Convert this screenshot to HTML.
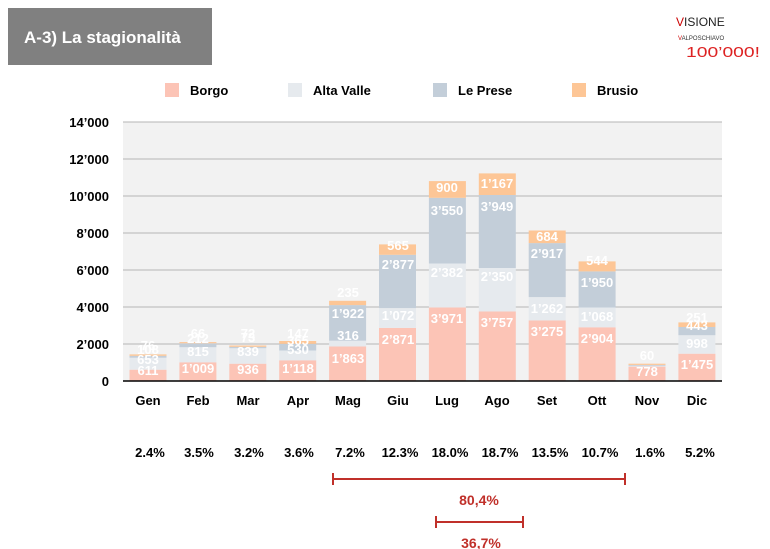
<!DOCTYPE html>
<html><head><meta charset="utf-8"><style>
body{margin:0;background:#fff;}
svg{display:block;font-family:"Liberation Sans",sans-serif;}
.l{fill:#fff;font-weight:bold;font-size:13px;text-anchor:middle;}
.ax{fill:#000;font-weight:bold;font-size:13px;}
</style></head><body>
<svg width="770" height="549" viewBox="0 0 770 549" xmlns="http://www.w3.org/2000/svg">
<rect x="8" y="8" width="204" height="57" fill="#808080"/>
<text x="24" y="43" fill="#fff" font-weight="bold" font-size="17">A-3) La stagionalità</text>
<text x="676" y="26" font-size="12" fill="#222"><tspan fill="#c00">V</tspan>ISIONE</text>
<text x="678" y="40" font-size="6" fill="#333"><tspan fill="#c00">V</tspan>ALPOSCHIAVO</text>
<text x="686" y="57" font-size="15" fill="#d22" textLength="74" lengthAdjust="spacingAndGlyphs">100’000!</text>
<rect x="165" y="83" width="14" height="14" fill="#fcc4b6"/><text x="190" y="95" class="ax">Borgo</text>
<rect x="288" y="83" width="14" height="14" fill="#e6eaee"/><text x="313" y="95" class="ax">Alta Valle</text>
<rect x="433" y="83" width="14" height="14" fill="#c3ced9"/><text x="458" y="95" class="ax">Le Prese</text>
<rect x="572" y="83" width="14" height="14" fill="#fdc696"/><text x="597" y="95" class="ax">Brusio</text>
<rect x="123" y="122" width="599" height="259" fill="#f2f2f2"/>
<g stroke="#b5b5b5" stroke-width="1">
<line x1="123" x2="722" y1="122" y2="122"/><line x1="123" x2="722" y1="159" y2="159"/><line x1="123" x2="722" y1="196" y2="196"/><line x1="123" x2="722" y1="233" y2="233"/><line x1="123" x2="722" y1="270" y2="270"/><line x1="123" x2="722" y1="307" y2="307"/><line x1="123" x2="722" y1="344" y2="344"/>
</g>
<g class="ax" text-anchor="end">
<text x="109" y="127" text-anchor="end">14’000</text><text x="109" y="164" text-anchor="end">12’000</text><text x="109" y="201" text-anchor="end">10’000</text><text x="109" y="238" text-anchor="end">8’000</text><text x="109" y="275" text-anchor="end">6’000</text><text x="109" y="312" text-anchor="end">4’000</text><text x="109" y="349" text-anchor="end">2’000</text><text x="109" y="386" text-anchor="end">0</text>
</g>
<g>
<rect x="129.5" y="369.7" width="37" height="11.3" fill="#fcc4b6"/><rect x="129.5" y="357.6" width="37" height="12.1" fill="#e6eaee"/><rect x="129.5" y="355.8" width="37" height="1.9" fill="#c3ced9"/><rect x="129.5" y="354.4" width="37" height="1.4" fill="#fdc696"/>
<rect x="179.4" y="362.3" width="37" height="18.7" fill="#fcc4b6"/><rect x="179.4" y="347.2" width="37" height="15.1" fill="#e6eaee"/><rect x="179.4" y="343.3" width="37" height="3.9" fill="#c3ced9"/><rect x="179.4" y="342.1" width="37" height="1.2" fill="#fdc696"/>
<rect x="229.3" y="363.7" width="37" height="17.3" fill="#fcc4b6"/><rect x="229.3" y="348.2" width="37" height="15.5" fill="#e6eaee"/><rect x="229.3" y="346.8" width="37" height="1.4" fill="#c3ced9"/><rect x="229.3" y="345.5" width="37" height="1.3" fill="#fdc696"/>
<rect x="279.2" y="360.3" width="37" height="20.7" fill="#fcc4b6"/><rect x="279.2" y="350.5" width="37" height="9.8" fill="#e6eaee"/><rect x="279.2" y="343.8" width="37" height="6.7" fill="#c3ced9"/><rect x="279.2" y="341.0" width="37" height="2.8" fill="#fdc696"/>
<rect x="329.1" y="346.5" width="37" height="34.5" fill="#fcc4b6"/><rect x="329.1" y="340.7" width="37" height="5.8" fill="#e6eaee"/><rect x="329.1" y="305.1" width="37" height="35.6" fill="#c3ced9"/><rect x="329.1" y="300.8" width="37" height="4.3" fill="#fdc696"/>
<rect x="379" y="327.9" width="37" height="53.1" fill="#fcc4b6"/><rect x="379" y="308.1" width="37" height="19.8" fill="#e6eaee"/><rect x="379" y="254.8" width="37" height="53.3" fill="#c3ced9"/><rect x="379" y="244.4" width="37" height="10.4" fill="#fdc696"/>
<rect x="428.9" y="307.5" width="37" height="73.5" fill="#fcc4b6"/><rect x="428.9" y="263.5" width="37" height="44" fill="#e6eaee"/><rect x="428.9" y="197.8" width="37" height="65.7" fill="#c3ced9"/><rect x="428.9" y="181.1" width="37" height="16.7" fill="#fdc696"/>
<rect x="478.8" y="311.5" width="37" height="69.5" fill="#fcc4b6"/><rect x="478.8" y="268" width="37" height="43.5" fill="#e6eaee"/><rect x="478.8" y="195" width="37" height="73" fill="#c3ced9"/><rect x="478.8" y="173.4" width="37" height="21.6" fill="#fdc696"/>
<rect x="528.7" y="320.4" width="37" height="60.6" fill="#fcc4b6"/><rect x="528.7" y="297.1" width="37" height="23.3" fill="#e6eaee"/><rect x="528.7" y="243.1" width="37" height="54" fill="#c3ced9"/><rect x="528.7" y="230.5" width="37" height="12.6" fill="#fdc696"/>
<rect x="578.6" y="327.3" width="37" height="53.7" fill="#fcc4b6"/><rect x="578.6" y="307.5" width="37" height="19.8" fill="#e6eaee"/><rect x="578.6" y="271.4" width="37" height="36.1" fill="#c3ced9"/><rect x="578.6" y="261.4" width="37" height="10" fill="#fdc696"/>
<rect x="628.5" y="366.6" width="37" height="14.4" fill="#fcc4b6"/><rect x="628.5" y="365.5" width="37" height="1.1" fill="#e6eaee"/><rect x="628.5" y="364.9" width="37" height="0.8" fill="#c3ced9"/><rect x="628.5" y="363.7" width="37" height="1.2" fill="#fdc696"/>
<rect x="678.4" y="353.7" width="37" height="27.3" fill="#fcc4b6"/><rect x="678.4" y="335.2" width="37" height="18.5" fill="#e6eaee"/><rect x="678.4" y="327" width="37" height="8.2" fill="#c3ced9"/><rect x="678.4" y="322.4" width="37" height="4.6" fill="#fdc696"/>
</g>
<line x1="123" x2="722" y1="381" y2="381" stroke="#000" stroke-width="1.5"/>
<g class="l">
<text x="148" y="375">611</text><text x="148" y="364">653</text><text x="148" y="354">108</text><text x="148" y="350">76</text>
<text x="198" y="373">1’009</text><text x="198" y="356">815</text><text x="198" y="343">212</text><text x="198" y="338">66</text>
<text x="248" y="374">936</text><text x="248" y="356">839</text><text x="248" y="342">73</text><text x="248" y="338">72</text>
<text x="298" y="373">1’118</text><text x="298" y="354">530</text><text x="298" y="345">365</text><text x="298" y="338">147</text>
<text x="348" y="363">1’863</text><text x="348" y="340">316</text><text x="348" y="318">1’922</text><text x="348" y="297">235</text>
<text x="398" y="344">2’871</text><text x="398" y="320">1’072</text><text x="398" y="269">2’877</text><text x="398" y="250">565</text>
<text x="447" y="323">3’971</text><text x="447" y="277">2’382</text><text x="447" y="215">3’550</text><text x="447" y="192">900</text>
<text x="497" y="327">3’757</text><text x="497" y="281">2’350</text><text x="497" y="211">3’949</text><text x="497" y="188">1’167</text>
<text x="547" y="336">3’275</text><text x="547" y="313">1’262</text><text x="547" y="258">2’917</text><text x="547" y="241">684</text>
<text x="597" y="343">2’904</text><text x="597" y="321">1’068</text><text x="597" y="287">1’950</text><text x="597" y="265">544</text>
<text x="647" y="376">778</text><text x="647" y="360">60</text>
<text x="697" y="369">1’475</text><text x="697" y="348">998</text><text x="697" y="330">443</text><text x="697" y="322">251</text>
</g>
<g class="ax" text-anchor="middle">
<text x="148" y="405" text-anchor="middle">Gen</text><text x="198" y="405" text-anchor="middle">Feb</text><text x="248" y="405" text-anchor="middle">Mar</text><text x="298" y="405" text-anchor="middle">Apr</text><text x="348" y="405" text-anchor="middle">Mag</text><text x="398" y="405" text-anchor="middle">Giu</text><text x="447" y="405" text-anchor="middle">Lug</text><text x="497" y="405" text-anchor="middle">Ago</text><text x="547" y="405" text-anchor="middle">Set</text><text x="597" y="405" text-anchor="middle">Ott</text><text x="647" y="405" text-anchor="middle">Nov</text><text x="697" y="405" text-anchor="middle">Dic</text>
<text x="150" y="457" text-anchor="middle">2.4%</text><text x="199" y="457" text-anchor="middle">3.5%</text><text x="249" y="457" text-anchor="middle">3.2%</text><text x="299" y="457" text-anchor="middle">3.6%</text><text x="350" y="457" text-anchor="middle">7.2%</text><text x="400" y="457" text-anchor="middle">12.3%</text><text x="450" y="457" text-anchor="middle">18.0%</text><text x="500" y="457" text-anchor="middle">18.7%</text><text x="550" y="457" text-anchor="middle">13.5%</text><text x="600" y="457" text-anchor="middle">10.7%</text><text x="650" y="457" text-anchor="middle">1.6%</text><text x="700" y="457" text-anchor="middle">5.2%</text>
</g>
<g stroke="#c0302a" stroke-width="2">
<line x1="333" x2="625" y1="479" y2="479"/><line x1="333" x2="333" y1="473" y2="485"/><line x1="625" x2="625" y1="473" y2="485"/>
<line x1="436" x2="523" y1="522" y2="522"/><line x1="436" x2="436" y1="516" y2="528"/><line x1="523" x2="523" y1="516" y2="528"/>
</g>
<text x="479" y="505" fill="#c0302a" font-size="14" text-anchor="middle" font-weight="bold">80,4%</text>
<text x="481" y="548" fill="#c0302a" font-size="14" text-anchor="middle" font-weight="bold">36,7%</text>
</svg>
</body></html>
